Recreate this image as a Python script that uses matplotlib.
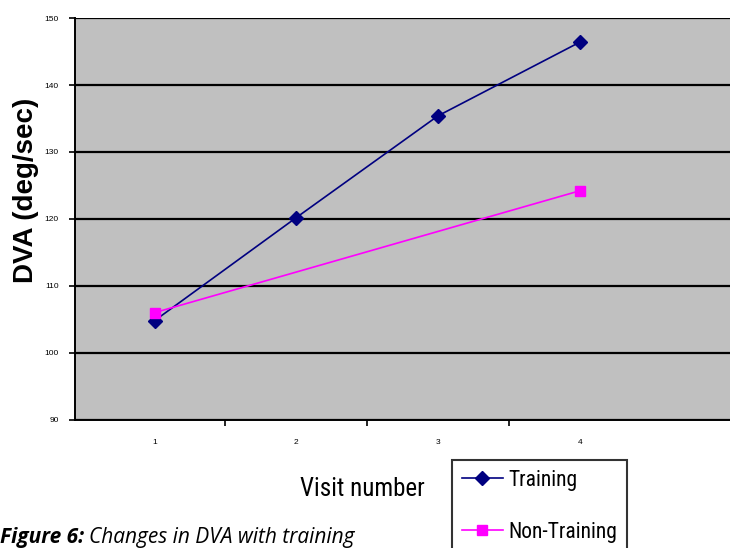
import matplotlib.pyplot as plt

visits = [1, 2, 3, 4]
training = [104.8, 120.2, 135.4, 146.4]
non_training_visits = [1, 4]
non_training = [106.0, 124.2]
y_ticks = [90, 100, 110, 120, 130, 140, 150]

narrow = ['Arial Narrow', 'Liberation Sans Narrow', 'Roboto Condensed',
          'Archivo Narrow', 'PT Sans Narrow', 'Liberation Sans']

fig = plt.figure(figsize=(7.3, 5.48), dpi=100)
ax = fig.add_axes([0.103, 0.234, 0.897, 0.733])
ax.set_facecolor('#c0c0c0')

ax.plot(visits, training, color='#000080', marker='D', markersize=7,
        linewidth=1.2, label='Training')
ax.plot(non_training_visits, non_training, color='#ff00ff', marker='s',
        markersize=7, linewidth=1.2, label='Non-Training')

ax.set_ylim(90, 150)
ax.set_xlim(0.44, 5.06)
ax.set_yticks(y_ticks)
ax.set_yticklabels([str(v) for v in y_ticks], fontsize=6, family='Liberation Sans')
ax.yaxis.grid(True, color='black', linewidth=1.6)
ax.set_axisbelow(True)

# category boundaries carry the ticks, labels sit at the centres
ax.set_xticks([1.5, 2.5, 3.5])
ax.set_xticklabels([])
ax.tick_params(axis='x', length=4, width=1.2)
ax.tick_params(axis='y', length=4, width=1.2, pad=8)
for v in visits:
    ax.text(v, 86.6, str(v), ha='center', va='center', fontsize=6,
            family='Liberation Sans')

for s in ['top', 'right']:
    ax.spines[s].set_visible(False)
ax.spines['left'].set_linewidth(1.4)
ax.spines['bottom'].set_linewidth(1.4)

fig.text(0.035, 0.653, 'DVA (deg/sec)', rotation=90, ha='center', va='center',
         fontsize=20, fontweight='bold', family='Liberation Sans')
fig.text(0.497, 0.107, 'Visit number', ha='center', va='center', fontsize=18,
         family=narrow)

leg = ax.legend(loc='upper left', bbox_to_anchor=(0.5756, -0.1),
                frameon=True, fancybox=False, edgecolor='black',
                handlelength=1.9, handletextpad=0.25, borderpad=0.45,
                borderaxespad=0, labelspacing=1.45,
                prop={'family': narrow, 'size': 15.5})
leg.get_frame().set_linewidth(1.5)

cap1 = fig.text(0.0, 0.0, 'Figure 6:', fontsize=15, fontweight='bold',
                style='italic', family='Open Sans', va='bottom')
fig.canvas.draw()
bb = cap1.get_window_extent()
fig.text(bb.x1 / fig.bbox.width + 0.006, 0.0, 'Changes in DVA with training',
         fontsize=15, style='italic', family='Open Sans', va='bottom')

fig.savefig('out.png', dpi=100)
